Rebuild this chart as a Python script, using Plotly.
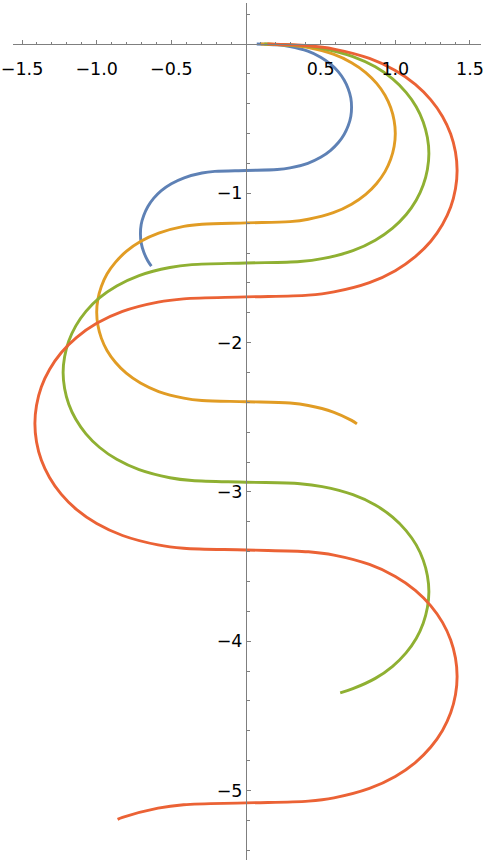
import plotly.graph_objects as go

# ---- data ----
blue_x = [0.072, 0.209, 0.295, 0.414, 0.500, 0.567, 0.619, 0.658, 0.685, 0.702, 0.707, 0.702, 0.685, 0.658, 0.619,
          0.567, 0.500, 0.414, 0.295, 0.209, 0.000,
          -0.209, -0.295, -0.414, -0.500, -0.567, -0.619, -0.658, -0.685, -0.702, -0.707, -0.702, -0.685, -0.658, -0.634]
blue_y = [-0.000, -0.006, -0.017, -0.048, -0.088, -0.135, -0.187, -0.243, -0.301, -0.362, -0.424, -0.485, -0.546, -0.604, -0.660,
          -0.712, -0.759, -0.799, -0.830, -0.841, -0.847,
          -0.853, -0.864, -0.896, -0.936, -0.982, -1.034, -1.090, -1.149, -1.209, -1.271, -1.332, -1.393, -1.452, -1.488]

orange_x = [0.100, 0.295, 0.417, 0.585, 0.707, 0.802, 0.875, 0.931, 0.969, 0.992, 1.000, 0.992, 0.969, 0.931, 0.875,
            0.802, 0.707, 0.585, 0.417, 0.295, 0.000,
            -0.295, -0.417, -0.585, -0.707, -0.802, -0.875, -0.931, -0.969, -0.992, -1.000, -0.992, -0.969, -0.931, -0.875,
            -0.802, -0.707, -0.585, -0.417, -0.295, 0.000,
            0.295, 0.417, 0.585, 0.707, 0.743]
orange_y = [-0.000, -0.009, -0.024, -0.068, -0.125, -0.191, -0.264, -0.343, -0.426, -0.512, -0.599, -0.686, -0.772, -0.855, -0.934,
            -1.007, -1.073, -1.130, -1.174, -1.190, -1.198,
            -1.207, -1.222, -1.267, -1.323, -1.389, -1.463, -1.541, -1.624, -1.710, -1.797, -1.884, -1.970, -2.053, -2.132,
            -2.205, -2.271, -2.328, -2.372, -2.388, -2.396,
            -2.405, -2.421, -2.465, -2.521, -2.544]

green_x = [0.123, 0.362, 0.510, 0.716, 0.866, 0.982, 1.072, 1.140, 1.187, 1.215, 1.225, 1.215, 1.187, 1.140, 1.072,
           0.982, 0.866, 0.716, 0.510, 0.362, 0.000,
           -0.362, -0.510, -0.716, -0.866, -0.982, -1.072, -1.140, -1.187, -1.215, -1.225, -1.215, -1.187, -1.140, -1.072,
           -0.982, -0.866, -0.716, -0.510, -0.362, 0.000,
           0.362, 0.510, 0.716, 0.866, 0.982, 1.072, 1.140, 1.187, 1.215, 1.225, 1.215, 1.187, 1.140, 1.072,
           0.982, 0.866, 0.716, 0.631]
green_y = [-0.000, -0.011, -0.030, -0.084, -0.153, -0.234, -0.324, -0.420, -0.522, -0.627, -0.734, -0.840, -0.945, -1.047, -1.144,
           -1.233, -1.314, -1.384, -1.438, -1.457, -1.467,
           -1.478, -1.497, -1.551, -1.621, -1.701, -1.791, -1.888, -1.990, -2.095, -2.201, -2.308, -2.413, -2.514, -2.611,
           -2.701, -2.782, -2.851, -2.905, -2.924, -2.935,
           -2.945, -2.965, -3.019, -3.088, -3.169, -3.259, -3.355, -3.457, -3.562, -3.669, -3.775, -3.880, -3.982, -4.078,
           -4.168, -4.249, -4.318, -4.346]

red_x = [0.143, 0.418, 0.589, 0.827, 1.000, 1.134, 1.238, 1.316, 1.371, 1.403, 1.414, 1.403, 1.371, 1.316, 1.238,
         1.134, 1.000, 0.827, 0.589, 0.418, 0.000,
         -0.418, -0.589, -0.827, -1.000, -1.134, -1.238, -1.316, -1.371, -1.403, -1.414, -1.403, -1.371, -1.316, -1.238,
         -1.134, -1.000, -0.827, -0.589, -0.418, 0.000,
         0.418, 0.589, 0.827, 1.000, 1.134, 1.238, 1.316, 1.371, 1.403, 1.414, 1.403, 1.371, 1.316, 1.238,
         1.134, 1.000, 0.827, 0.589, 0.418, 0.000,
         -0.418, -0.589, -0.827, -0.860]
red_y = [-0.000, -0.012, -0.034, -0.097, -0.177, -0.270, -0.374, -0.485, -0.603, -0.724, -0.847, -0.970, -1.092, -1.209, -1.321,
         -1.424, -1.518, -1.598, -1.660, -1.682, -1.694,
         -1.707, -1.729, -1.791, -1.871, -1.965, -2.068, -2.180, -2.297, -2.419, -2.542, -2.665, -2.786, -2.903, -3.015,
         -3.119, -3.212, -3.292, -3.355, -3.377, -3.389,
         -3.401, -3.423, -3.486, -3.566, -3.659, -3.763, -3.874, -3.992, -4.113, -4.236, -4.359, -4.480, -4.598, -4.709,
         -4.813, -4.906, -4.986, -5.049, -5.071, -5.083,
         -5.095, -5.118, -5.180, -5.193]

x_tick_vals = [-1.5, -1.0, -0.5, 0.5, 1.0, 1.5]
x_tick_text = ["\u22121.5", "\u22121.0", "\u22120.5", "0.5", "1.0", "1.5"]
y_tick_vals = [-1, -2, -3, -4, -5]
y_tick_text = ["\u22121", "\u22122", "\u22123", "\u22124", "\u22125"]

series = [
    (blue_x, blue_y, "#5E81B5"),
    (orange_x, orange_y, "#E19C24"),
    (green_x, green_y, "#8FB032"),
    (red_x, red_y, "#EB6235"),
]

fig = go.Figure()
for xs, ys, col in series:
    fig.add_trace(go.Scatter(x=xs, y=ys, mode="lines",
                             line=dict(color=col, width=2.9, shape="spline", smoothing=1.0),
                             hoverinfo="skip", showlegend=False))

W, H = 488, 864
ml, mr, mt, mb = 13, 7, 3, 4
scale = 149.3
ox, oy = 246, 44
xr = [(ml - ox) / scale, (W - mr - ox) / scale]
yr = [(oy - (H - mb)) / scale, (oy - mt) / scale]

axcol = "#7f7f7f"
tfont = dict(family="DejaVu Sans", size=17.5, color="black")

fig.update_layout(
    width=W, height=H,
    margin=dict(l=ml, r=mr, t=mt, b=mb, pad=0, autoexpand=False),
    plot_bgcolor="white", paper_bgcolor="white",
    xaxis=dict(range=xr, showgrid=False, zeroline=False, showline=True, linecolor=axcol, linewidth=1,
               anchor="free", position=(0 - yr[0]) / (yr[1] - yr[0]), automargin=False,
               ticks="inside", ticklen=4, tickwidth=1, tickcolor=axcol,
               tickmode="array", tickvals=x_tick_vals, ticktext=x_tick_text, tickfont=tfont,
               ticklabelstandoff=9,
               minor=dict(ticks="inside", ticklen=2.5, tickwidth=1, tickcolor=axcol,
                          tickmode="linear", tick0=0, dtick=0.1, showgrid=False)),
    yaxis=dict(range=yr, showgrid=False, zeroline=False, showline=True, linecolor=axcol, linewidth=1,
               anchor="free", position=(0 - xr[0]) / (xr[1] - xr[0]), automargin=False,
               ticks="inside", ticklen=4, tickwidth=1, tickcolor=axcol,
               tickmode="array", tickvals=y_tick_vals, ticktext=y_tick_text, tickfont=tfont,
               ticklabelstandoff=0,
               minor=dict(ticks="inside", ticklen=2.5, tickwidth=1, tickcolor=axcol,
                          tickmode="linear", tick0=0, dtick=0.2, showgrid=False)),
)

fig.write_html("out.html", config={"displayModeBar": False},
               post_script="document.body.style.margin='0px';document.body.style.padding='0px';")
